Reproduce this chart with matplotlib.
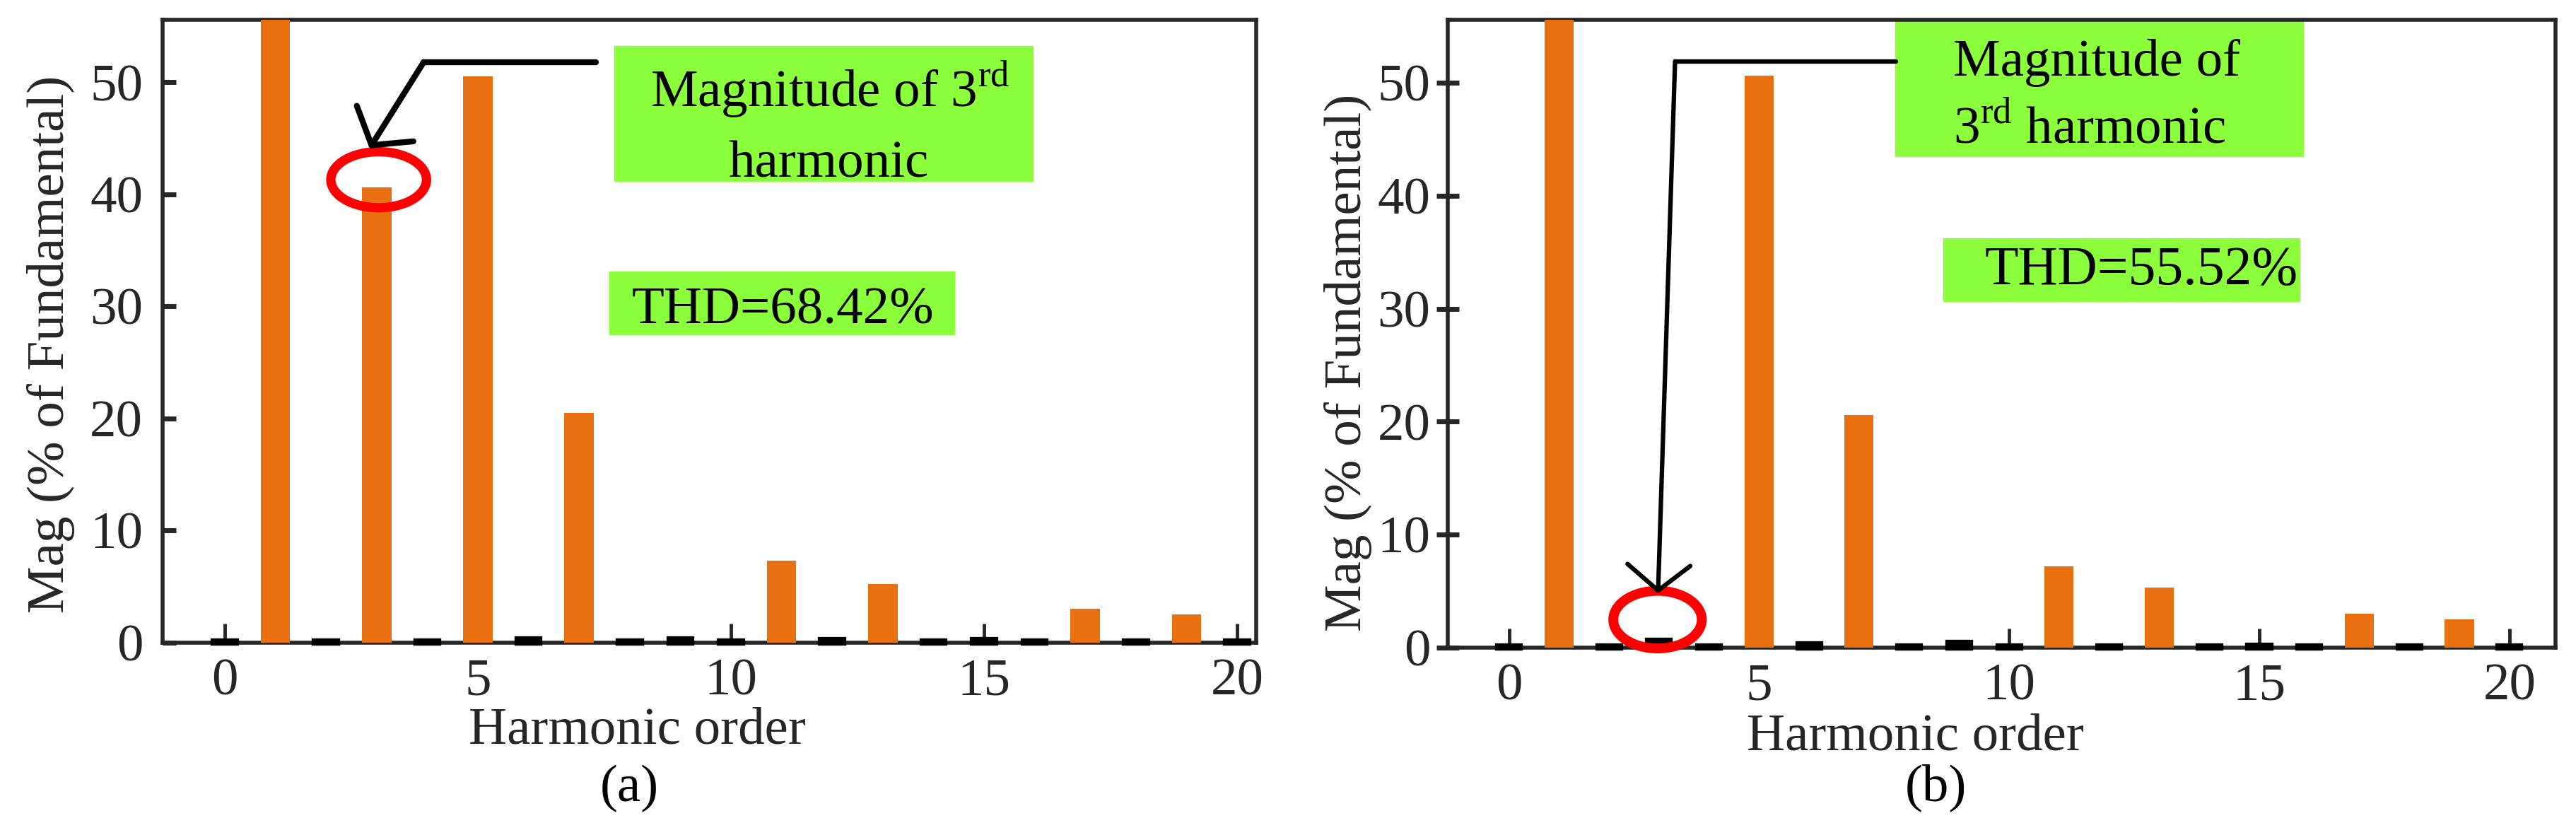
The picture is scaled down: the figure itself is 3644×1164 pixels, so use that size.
import matplotlib
matplotlib.use("Agg")
import matplotlib.pyplot as plt
from matplotlib.patches import Ellipse, Rectangle

plt.rcParams['font.family'] = ['Liberation Serif', 'DejaVu Serif']
plt.rcParams['mathtext.fontset'] = 'custom'
plt.rcParams['mathtext.rm'] = 'Liberation Serif'

# DATA ========================================================================
harmonics = list(range(21))
mag_a = [0.1, 100, 0.1, 40.6, 0.1, 50.5, 0.3, 20.5, 0.1, 0.3, 0.1,
         7.3, 0.2, 5.2, 0.1, 0.2, 0.1, 3.0, 0.1, 2.5, 0.1]
mag_b = [0.1, 100, 0.1, 0.6, 0.1, 50.6, 0.3, 20.6, 0.1, 0.4, 0.1,
         7.2, 0.1, 5.3, 0.1, 0.2, 0.1, 3.0, 0.1, 2.5, 0.1]
thd_a = "THD=68.42%"
thd_b = "THD=55.52%"
xticks = [0, 5, 10, 15, 20]
yticks = [0, 10, 20, 30, 40, 50]

ORANGE = "#E87010"
GREEN = "#8BFF3C"
DARK = "#262626"
FS = 54

fig = plt.figure(figsize=(36.44, 11.64), dpi=100)
ax_a = fig.add_axes([0.0631, 0.2194, 0.4246, 0.7569])
ax_b = fig.add_axes([0.5619, 0.2132, 0.4301, 0.7631])


def draw_panel(ax, mags, xmax, ydir):
    big = [(h, m) for h, m in zip(harmonics, mags) if m > 1]
    small = [(h, m) for h, m in zip(harmonics, mags) if m <= 1]
    ax.bar([h for h, _ in big], [m for _, m in big], width=0.58,
           color=ORANGE, zorder=3)
    # near-zero harmonics show up as thick black dashes on the baseline
    ax.bar([h for h, _ in small], [m for _, m in small], width=0.44,
           color="black", edgecolor="black", linewidth=6, zorder=4,
           clip_on=False)
    ax.set_xlim(-1.23, xmax)
    ax.set_ylim(0, 55.6)
    ax.set_xticks(xticks)
    ax.set_yticks(yticks)
    for s in ax.spines.values():
        s.set_linewidth(4)
        s.set_color(DARK)
    ax.tick_params(axis="x", direction="in", length=19.5, width=3.5,
                   pad=16, labelsize=FS, colors=DARK)
    if ydir == "in":
        ax.tick_params(axis="y", direction="in", length=14, width=5,
                       pad=20, labelsize=FS, colors=DARK)
    else:
        ax.tick_params(axis="y", direction="inout", length=23, width=5,
                       pad=6, labelsize=FS, colors=DARK)
    ax.set_ylabel("Mag (% of Fundamental)", fontsize=FS, color=DARK)
    ax.set_xlabel("Harmonic order", fontsize=FS, color=DARK)
    ax.yaxis.label.set_va("center")
    ax.xaxis.label.set_va("baseline")


draw_panel(ax_a, mag_a, 20.38, "in")
draw_panel(ax_b, mag_b, 20.92, "inout")

# panel (a) labels / annotations
ax_a.yaxis.set_label_coords(-0.102, 0.479)
ax_a.xaxis.set_label_coords(0.434, -0.162)
ax_a.text(0.4266, -0.2547, "(a)", transform=ax_a.transAxes, ha="center",
          va="baseline", fontsize=FS)

ax_a.add_patch(Rectangle((0.413, 0.7403), 0.3827, 0.2172,
                         transform=ax_a.transAxes, color=GREEN, zorder=2))
ax_a.text(0.6105, 0.8597, r"Magnitude of 3$^{\rm rd}$", transform=ax_a.transAxes,
          ha="center", va="baseline", fontsize=FS, zorder=5)
ax_a.text(0.6086, 0.7468, "harmonic", transform=ax_a.transAxes,
          ha="center", va="baseline", fontsize=FS, zorder=5)
ax_a.add_patch(Rectangle((0.4085, 0.4949), 0.3155, 0.1006,
                         transform=ax_a.transAxes, color=GREEN, zorder=2))
ax_a.text(0.5674, 0.5123, thd_a, transform=ax_a.transAxes,
          ha="center", va="baseline", fontsize=FS, zorder=5)

ax_a.add_patch(Ellipse((3.04, 41.3), 1.89, 5.0, fill=False,
                       edgecolor="red", linewidth=9.5, zorder=6))
ax_a.plot([7.33, 3.93], [51.8, 51.8], color="black", linewidth=6,
          solid_capstyle="round", zorder=6)
ax_a.annotate("", xy=(2.86, 44.1), xytext=(3.93, 51.8),
              arrowprops=dict(arrowstyle="->, head_length=1.3, head_width=1.7",
                              mutation_scale=20, color="black", linewidth=6,
                              shrinkA=0, shrinkB=0, capstyle="round"),
              zorder=6)

# panel (b) labels / annotations
ax_b.yaxis.set_label_coords(-0.0898, 0.4535)
ax_b.xaxis.set_label_coords(0.4226, -0.1628)
ax_b.text(0.441, -0.2439, "(b)", transform=ax_b.transAxes, ha="center",
          va="baseline", fontsize=FS)

ax_b.add_patch(Rectangle((0.404, 0.7823), 0.3685, 0.2177,
                         transform=ax_b.transAxes, color=GREEN, zorder=2))
ax_b.text(0.4564, 0.9104, "Magnitude of", transform=ax_b.transAxes,
          ha="left", va="baseline", fontsize=FS, zorder=5)
ax_b.text(0.4564, 0.8027, r"3$^{\rm rd}$ harmonic", transform=ax_b.transAxes,
          ha="left", va="baseline", fontsize=FS, zorder=5)
ax_b.add_patch(Rectangle((0.4475, 0.5514), 0.3215, 0.0997,
                         transform=ax_b.transAxes, color=GREEN, zorder=2))
ax_b.text(0.4851, 0.5787, thd_b, transform=ax_b.transAxes,
          ha="left", va="baseline", fontsize=56, zorder=5)

ax_b.add_patch(Ellipse((2.97, 2.47), 1.77, 5.1, fill=False,
                       edgecolor="red", linewidth=10, zorder=6, clip_on=False))
ax_b.plot([7.74, 3.32], [51.9, 51.9], color="black", linewidth=4.5,
          solid_capstyle="round", zorder=6)
ax_b.annotate("", xy=(2.98, 4.8), xytext=(3.32, 51.9),
              arrowprops=dict(arrowstyle="->, head_length=1.3, head_width=1.6",
                              mutation_scale=20, color="black", linewidth=4.5,
                              shrinkA=0, shrinkB=0),
              zorder=6)

fig.savefig("out.png", dpi=100)
